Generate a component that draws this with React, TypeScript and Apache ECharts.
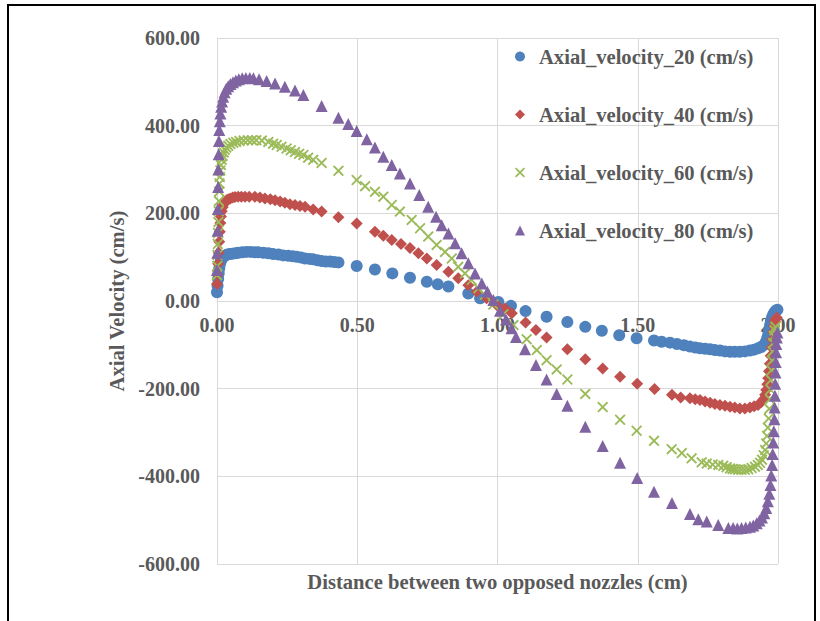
import React, { useEffect, useRef } from "react";
import * as echarts from "echarts";

const FONT = "'Liberation Serif', 'Times New Roman', serif";
const TEXT = "#595959";
const GRID = "#D9D9D9";

const seriesNames = [
  "Axial_velocity_20 (cm/s)",
  "Axial_velocity_40 (cm/s)",
  "Axial_velocity_60 (cm/s)",
  "Axial_velocity_80 (cm/s)",
];
const seriesColors = ["#4F81BD", "#C0504D", "#9BBB59", "#8064A2"];
const X_PATH =
  "path://M0,1.2L1.2,0L5,3.8L8.8,0L10,1.2L6.2,5L10,8.8L8.8,10L5,6.2L1.2,10L0,8.8L3.8,5Z";
const seriesSymbols = ["circle", "diamond", X_PATH, "triangle"];
const seriesSizes = [12, 12, 11, 12];

const v20: number[][] = [
  [0, 20], [0.002, 35], [0.004, 50], [0.006, 63], [0.008, 74], [0.01, 83], [0.013, 90], [0.016, 95],
  [0.02, 99], [0.025, 102], [0.03, 104], [0.037, 106], [0.045, 107], [0.055, 108], [0.065, 109],
  [0.076, 110], [0.09, 111], [0.105, 112], [0.12, 112], [0.135, 111], [0.147, 111], [0.165, 110],
  [0.183, 109], [0.2, 107], [0.219, 106], [0.236, 104], [0.254, 103], [0.27, 102], [0.284, 101],
  [0.3, 99], [0.314, 97], [0.33, 96], [0.343, 95], [0.358, 93], [0.373, 91], [0.388, 90], [0.403, 90],
  [0.418, 89], [0.433, 88], [0.498, 80], [0.563, 72], [0.625, 63], [0.688, 53], [0.748, 44],
  [0.787, 38], [0.825, 33], [0.896, 17], [0.938, 6], [1.003, -2], [1.048, -11], [1.1, -23],
  [1.175, -36], [1.249, -48], [1.313, -59], [1.372, -68], [1.434, -78], [1.496, -85], [1.558, -90],
  [1.585, -93], [1.615, -95], [1.64, -98], [1.665, -101], [1.686, -104], [1.705, -106], [1.722, -108],
  [1.74, -109], [1.758, -110], [1.775, -112], [1.793, -113], [1.811, -115], [1.829, -116],
  [1.846, -116], [1.864, -116], [1.882, -115], [1.9, -113], [1.915, -111], [1.929, -108],
  [1.94, -105], [1.95, -100], [1.957, -93], [1.962, -84], [1.966, -74], [1.969, -64], [1.972, -54],
  [1.975, -45], [1.979, -37], [1.983, -31], [1.987, -26], [1.992, -22], [1.998, -20],
];

const v40: number[][] = [
  [0, 39], [0.002, 60], [0.004, 85], [0.006, 110], [0.008, 135], [0.01, 158], [0.012, 178],
  [0.014, 193], [0.017, 205], [0.02, 214], [0.024, 221], [0.029, 226], [0.034, 230], [0.04, 232],
  [0.048, 234], [0.056, 236], [0.064, 237], [0.075, 238], [0.087, 238], [0.1, 238], [0.115, 238],
  [0.135, 238], [0.153, 236], [0.171, 234], [0.19, 232], [0.207, 230], [0.225, 227], [0.242, 224],
  [0.26, 221], [0.278, 219], [0.296, 217], [0.314, 215], [0.343, 209], [0.373, 204], [0.433, 191],
  [0.498, 177], [0.563, 158], [0.593, 149], [0.623, 139], [0.656, 130], [0.688, 121], [0.718, 109],
  [0.748, 97], [0.783, 82], [0.825, 67], [0.86, 52], [0.896, 36], [0.926, 21], [0.961, 6],
  [0.997, -9], [1.027, -17], [1.051, -28], [1.1, -49], [1.137, -66], [1.175, -83], [1.249, -110],
  [1.313, -133], [1.375, -154], [1.437, -173], [1.498, -189], [1.56, -201], [1.622, -214],
  [1.653, -220], [1.686, -222], [1.705, -224], [1.722, -226], [1.74, -229], [1.758, -232],
  [1.775, -235], [1.793, -237], [1.811, -239], [1.829, -241], [1.846, -243], [1.864, -245],
  [1.882, -245], [1.9, -243], [1.915, -240], [1.929, -237], [1.94, -231], [1.948, -224],
  [1.954, -214], [1.958, -203], [1.962, -190], [1.965, -176], [1.968, -160], [1.971, -143],
  [1.974, -125], [1.977, -106], [1.98, -88], [1.983, -71], [1.986, -57], [1.989, -47],
  [1.992, -41], [1.996, -38],
];

const v60: number[][] = [
  [0, 59], [0.001, 80], [0.002, 105], [0.003, 130], [0.004, 155], [0.005, 180], [0.006, 205],
  [0.007, 228], [0.008, 250], [0.009, 268], [0.01, 283], [0.012, 298], [0.014, 310], [0.017, 322],
  [0.02, 331], [0.024, 339], [0.028, 345], [0.033, 350], [0.04, 354], [0.048, 358], [0.058, 361],
  [0.068, 363], [0.08, 365], [0.095, 366], [0.11, 367], [0.125, 367], [0.14, 367], [0.16, 366],
  [0.183, 363], [0.2, 359], [0.213, 356], [0.23, 352], [0.248, 348], [0.263, 344], [0.278, 340],
  [0.293, 336], [0.308, 333], [0.325, 327], [0.343, 322], [0.373, 315], [0.433, 297], [0.498, 276],
  [0.528, 262], [0.563, 249], [0.593, 238], [0.623, 219], [0.652, 204], [0.694, 185], [0.724, 166],
  [0.753, 147], [0.783, 128], [0.813, 112], [0.837, 97], [0.86, 78], [0.884, 63], [0.908, 48],
  [0.932, 29], [0.955, 14], [0.985, -8], [1.021, -30], [1.057, -55], [1.104, -87], [1.14, -112],
  [1.175, -135], [1.211, -156], [1.249, -179], [1.313, -212], [1.375, -242], [1.437, -271],
  [1.496, -296], [1.558, -319], [1.621, -338], [1.657, -347], [1.692, -359], [1.728, -368],
  [1.746, -371], [1.767, -373], [1.787, -374], [1.805, -376], [1.817, -379], [1.829, -382],
  [1.838, -383], [1.847, -384], [1.858, -385], [1.87, -385], [1.882, -385], [1.894, -384],
  [1.906, -381], [1.918, -378], [1.928, -374], [1.936, -369], [1.943, -362], [1.949, -352],
  [1.954, -340], [1.958, -325], [1.961, -308], [1.964, -289], [1.967, -268], [1.969, -246],
  [1.971, -224], [1.973, -202], [1.975, -180], [1.977, -158], [1.979, -136], [1.981, -115],
  [1.983, -96], [1.985, -80], [1.988, -67], [1.991, -59],
];

const v80: number[][] = [
  [0, 71], [0.001, 110], [0.002, 160], [0.003, 210], [0.004, 260], [0.005, 300], [0.006, 335],
  [0.007, 365], [0.008, 390], [0.01, 410], [0.012, 428], [0.015, 443], [0.018, 455], [0.022, 466],
  [0.027, 476], [0.033, 484], [0.04, 490], [0.048, 495], [0.057, 499], [0.067, 503], [0.078, 506],
  [0.09, 508], [0.103, 509], [0.117, 509], [0.13, 508], [0.15, 506], [0.177, 502], [0.207, 496],
  [0.242, 489], [0.278, 480], [0.308, 470], [0.373, 445], [0.433, 418], [0.468, 404], [0.498, 388],
  [0.534, 369], [0.563, 350], [0.593, 329], [0.623, 310], [0.652, 291], [0.688, 268], [0.721, 242],
  [0.753, 215], [0.781, 192], [0.801, 173], [0.825, 154], [0.849, 132], [0.872, 109], [0.896, 86],
  [0.92, 63], [0.944, 40], [0.964, 21], [0.985, 2], [1.009, -22], [1.03, -42], [1.05, -62],
  [1.066, -82], [1.098, -110], [1.137, -146], [1.175, -179], [1.211, -212], [1.249, -239],
  [1.313, -287], [1.375, -331], [1.437, -369], [1.498, -404], [1.558, -435], [1.622, -461],
  [1.686, -486], [1.716, -498], [1.746, -503], [1.787, -511], [1.823, -518], [1.84, -518],
  [1.855, -519], [1.87, -518], [1.885, -517], [1.9, -515], [1.912, -512], [1.924, -507],
  [1.934, -501], [1.943, -494], [1.951, -484], [1.958, -472], [1.964, -457], [1.969, -440],
  [1.973, -420], [1.976, -398], [1.979, -374], [1.981, -349], [1.983, -323], [1.985, -297],
  [1.987, -270], [1.988, -243], [1.989, -216], [1.99, -189], [1.991, -163], [1.992, -139],
  [1.993, -117], [1.994, -98], [1.996, -83], [1.998, -72],
];

const seriesData = [v20, v40, v60, v80];

const X_MIN = 0;
const X_MAX = 2;
const X_STEP = 0.5;
const Y_MIN = -600;
const Y_MAX = 600;
const Y_STEP = 200;

const GRID_TOP = 38;
const GRID_BOTTOM = 57;
const CHART_H = 621;

const labelStyle = {
  fontFamily: FONT,
  fontSize: 20,
  fontWeight: "bold" as const,
  color: TEXT,
};
const titleStyle = { ...labelStyle, fontSize: 20.6 };

export default function App() {
  const ref = useRef<HTMLDivElement>(null);

  useEffect(() => {
    if (!ref.current) return;
    const chart = echarts.init(ref.current, undefined, { renderer: "svg" });
    // move the x axis (line + labels) up to the y = 0 position
    const plotH = CHART_H - GRID_TOP - GRID_BOTTOM;
    const zeroOffset = -plotH * ((0 - Y_MIN) / (Y_MAX - Y_MIN));
    const option: any = {
      animation: false,
      backgroundColor: "#ffffff",
      textStyle: { fontFamily: FONT },
      grid: {
        left: 217,
        right: 42,
        top: GRID_TOP,
        bottom: GRID_BOTTOM,
        containLabel: false,
        outerBoundsMode: "none",
      },
      xAxis: {
        type: "value",
        min: X_MIN,
        max: X_MAX,
        interval: X_STEP,
        position: "bottom",
        offset: zeroOffset,
        name: "Distance between two opposed nozzles (cm)",
        nameLocation: "middle",
        nameGap: 270,
        nameTextStyle: titleStyle,
        axisLine: { onZero: false, lineStyle: { color: GRID, width: 1 } },
        axisTick: { show: false },
        axisLabel: {
          ...labelStyle,
          margin: 14,
          showMinLabel: true,
          showMaxLabel: true,
          formatter: (v: number) => v.toFixed(2),
        },
        splitLine: { show: true, lineStyle: { color: GRID, width: 1 } },
      },
      yAxis: {
        type: "value",
        min: Y_MIN,
        max: Y_MAX,
        interval: Y_STEP,
        name: "Axial Velocity (cm/s)",
        nameLocation: "middle",
        nameRotate: 90,
        nameGap: 84,
        nameTextStyle: titleStyle,
        axisLine: { show: true, onZero: false, lineStyle: { color: GRID, width: 1 } },
        axisTick: { show: false },
        axisLabel: {
          ...labelStyle,
          margin: 17,
          showMinLabel: true,
          showMaxLabel: true,
          formatter: (v: number) => v.toFixed(2),
        },
        splitLine: { show: true, lineStyle: { color: GRID, width: 1 } },
      },
      legend: {
        orient: "vertical",
        left: 510,
        top: 41,
        itemWidth: 10,
        itemHeight: 10,
        itemGap: 37,
        textStyle: { ...titleStyle, padding: [0, 0, 0, 9] },
        data: seriesNames.map((n, i) => ({ name: n, icon: seriesSymbols[i] })),
      },
      series: seriesNames.map((n, i) => ({
        name: n,
        type: "scatter",
        symbol: seriesSymbols[i],
        symbolSize: seriesSizes[i],
        itemStyle: { color: seriesColors[i], opacity: 1 },
        data: seriesData[i],
        z: 2 + i,
      })),
      graphic: [
        {
          type: "rect",
          silent: true,
          z: 100,
          shape: { x: 8, y: 5, width: 807, height: 700 },
          style: { fill: "none", stroke: "#000000", lineWidth: 2 },
        },
      ],
    };
    chart.setOption(option);
    return () => chart.dispose();
  }, []);

  return (
    <div
      ref={ref}
      style={{ position: "fixed", left: 0, top: 0, width: 820, height: CHART_H, background: "#fff" }}
    />
  );
}
